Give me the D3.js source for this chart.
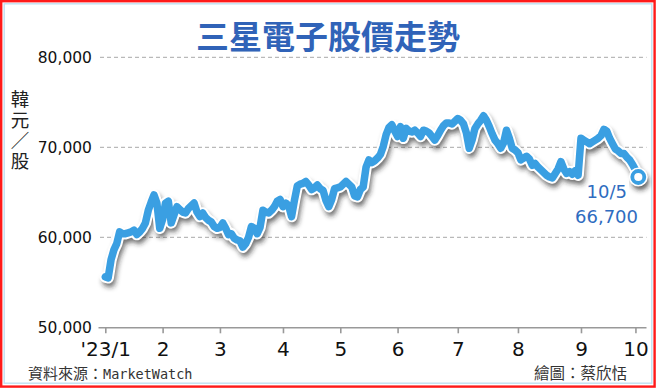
<!DOCTYPE html>
<html>
<head>
<meta charset="utf-8">
<script src="https://cdn.jsdelivr.net/npm/d3@7"></script>
<style>
  html, body { margin: 0; padding: 0; background: #fff; }
  svg { display: block; }
</style>
</head>
<body>
<svg id="chart" width="656" height="389"></svg>
<script>
// ---- data (KRW per share, daily close) ----
var holidays = ["2023-01-23", "2023-01-24", "2023-03-01", "2023-05-01", "2023-05-05", "2023-05-29",
                "2023-06-06", "2023-08-15", "2023-09-28", "2023-09-29", "2023-10-02", "2023-10-03"];
var firstDay = "2023-01-02", lastDay = "2023-10-05";

var closesJan = [55600, 55500, 57500, 58600, 59300, 60600, 60400, 60400, 60500, 60600,
                 60800, 60300, 60600, 61000, 61600, 63000, 63900, 64700, 63800, 61000];
var closesFeb = [62000, 63800, 64000, 61600, 62500, 63400, 63100, 62800, 62700, 63200,
                 63500, 63800, 62800, 62300, 62700, 62200, 61900, 61700, 61200, 61000];
var closesMar = [61100, 61600, 61000, 60300, 60400, 59900, 59700, 59600, 58900, 59300, 60000,
                 61200, 61000, 60400, 61100, 63000, 62800, 62700, 63000, 63400, 64000, 64200];
var closesApr = [63400, 63800, 63500, 62300, 64100, 65700, 65900, 66000, 66200, 65800,
                 65300, 65500, 65800, 65400, 65200, 64100, 63400, 64200, 65400, 65500];
var closesMay = [65600, 65900, 66200, 65900, 65600, 64600, 64500, 65300, 65600, 67800,
                 68600, 68300, 68500, 68800, 69200, 70100, 71400, 72200, 72500, 71800];
var closesJun = [71200, 72300, 71000, 72100, 71800, 71700, 71900, 71600, 71200, 71900, 71800,
                 71600, 71200, 70800, 71300, 71900, 72400, 72700, 72700, 72600, 72900];
var closesJul = [73200, 73000, 72600, 71600, 69900, 70800, 72100, 72600, 73000, 73500, 73000,
                 72300, 71500, 70800, 70400, 69900, 70500, 71900, 71000, 69900, 69700];
var closesAug = [69400, 68600, 68800, 69000, 68700, 68000, 68200, 67800, 67500, 67200, 66900,
                 66700, 66600, 67100, 67600, 68400, 67600, 67100, 67300, 67000, 67400, 66900];
var closesSep = [71000, 70800, 70600, 70400, 70600, 70800, 71000, 71300, 72000, 71800,
                 71000, 70400, 69800, 69600, 69300, 69300, 68900, 68600, 68100];
var closesOct = [67500, 66700];

var tickLabels = ["'23/1", "2", "3", "4", "5", "6", "7", "8", "9", "10"];
var yTicks = [50000, 60000, 70000, 80000];
var unitLabel = "韓元／股";
var lastLabel = ["10/5", "66,700"];

// ---- trading calendar ----
var parse = d3.timeParse("%Y-%m-%d"), fmt = d3.timeFormat("%Y-%m-%d");
var tradingDays = d3.timeDay.range(parse(firstDay), d3.timeDay.offset(parse(lastDay), 1))
  .filter(function (d) { return d.getDay() !== 0 && d.getDay() !== 6 && holidays.indexOf(fmt(d)) < 0; });

var closes = [].concat(closesJan, closesFeb, closesMar, closesApr, closesMay,
                       closesJun, closesJul, closesAug, closesSep, closesOct);
var data = tradingDays.map(function (d, i) { return { date: d, key: fmt(d), value: closes[i] }; });

// first trading day of each month -> ticks
var tickKeys = [];
data.forEach(function (d, i) {
  if (i === 0 || d.date.getMonth() !== data[i - 1].date.getMonth()) tickKeys.push(d.key);
});

// ---- drawing ----
var svg = d3.select("#chart");
var blue = "#3a9fe2";

var x = d3.scalePoint().domain(data.map(function (d) { return d.key; })).range([105.3, 638.3]);
var y = d3.scaleLinear().domain([50000, 80000]).range([327.3, 57.3]);

var defs = svg.append("defs");
var f = defs.append("filter").attr("id", "shadow").attr("x", "-10%").attr("y", "-20%").attr("width", "120%").attr("height", "150%");
f.append("feGaussianBlur").attr("stdDeviation", 2.4);

// frame
svg.append("rect").attr("x", 1.2).attr("y", 1.2).attr("width", 653.4).attr("height", 385.4)
  .attr("fill", "none").attr("stroke", "#ff1a1a").attr("stroke-width", 2.4);
svg.append("rect").attr("x", 4.2).attr("y", 3.8).attr("width", 647.6).attr("height", 379.4)
  .attr("fill", "none").attr("stroke", "#bfe0f2").attr("stroke-width", 1.4);

// title
svg.append("text").attr("x", 328).attr("y", 49).attr("text-anchor", "middle")
  .style("font-family", "'Noto Sans CJK TC', sans-serif").style("font-weight", "bold")
  .style("font-size", "33px").attr("fill", "#3063b8").text("三星電子股價走勢");

// grid lines
svg.append("g").selectAll("line").data(yTicks.slice(1)).join("line")
  .attr("x1", 100).attr("x2", 646.5)
  .attr("y1", function (d) { return y(d); }).attr("y2", function (d) { return y(d); })
  .attr("stroke", "#a8a8a8").attr("stroke-width", 1).attr("stroke-dasharray", "4,3");

// y labels
svg.append("g").selectAll("text").data(yTicks).join("text")
  .attr("x", 92).attr("y", function (d) { return y(d) + 5.5; })
  .attr("text-anchor", "end")
  .style("font-family", "'DejaVu Sans', sans-serif").style("font-size", "15.5px")
  .attr("fill", "#111").text(d3.format(","));

// unit label (vertical writing)
svg.append("text").attr("x", 20).attr("y", 90)
  .style("writing-mode", "vertical-rl").style("text-orientation", "upright")
  .style("letter-spacing", "2px")
  .style("font-family", "'Noto Sans CJK TC', sans-serif").style("font-size", "18.5px")
  .attr("fill", "#222").text(unitLabel);

// x axis
var xAxis = d3.axisBottom(x).tickValues(tickKeys).tickSize(6).tickSizeOuter(0)
  .tickFormat(function (d, i) { return tickLabels[i]; });
var gx = svg.append("g").attr("transform", "translate(0," + y(50000) + ")").call(xAxis);
gx.select(".domain").attr("d", "M98.5,0.5H646.5").attr("stroke", "#999").attr("stroke-width", 1.6);
gx.selectAll(".tick line").attr("stroke", "#999").attr("stroke-width", 1.6);
gx.selectAll(".tick text").attr("y", 29).attr("dy", 0).attr("fill", "#111")
  .style("font-family", "'DejaVu Sans', sans-serif").style("font-size", "20px");

// line: shadow, white casing, blue stroke
var line = d3.line().x(function (d) { return x(d.key); }).y(function (d) { return y(d.value); });
var last = data[data.length - 1];

svg.append("path").datum(data).attr("d", line).attr("transform", "translate(2,4.5)")
  .attr("fill", "none").attr("stroke", "#222").attr("stroke-opacity", 0.65).attr("stroke-width", 10)
  .attr("stroke-linejoin", "round").attr("stroke-linecap", "round").attr("filter", "url(#shadow)");
svg.append("circle").attr("cx", x(last.key) + 2).attr("cy", y(last.value) + 4.5).attr("r", 9)
  .attr("fill", "#222").attr("fill-opacity", 0.6).attr("filter", "url(#shadow)");

svg.append("path").datum(data).attr("d", line)
  .attr("fill", "none").attr("stroke", "#fff").attr("stroke-width", 11.5)
  .attr("stroke-linejoin", "round").attr("stroke-linecap", "round");
svg.append("path").datum(data).attr("d", line)
  .attr("fill", "none").attr("stroke", blue).attr("stroke-width", 7.5)
  .attr("stroke-linejoin", "round").attr("stroke-linecap", "round");

svg.append("circle").attr("cx", x(last.key)).attr("cy", y(last.value)).attr("r", 9.5).attr("fill", "#fff");
svg.append("circle").attr("cx", x(last.key)).attr("cy", y(last.value)).attr("r", 6)
  .attr("fill", "#fff").attr("stroke", blue).attr("stroke-width", 3.8);

// last value annotation
svg.append("g").selectAll("text").data(lastLabel).join("text")
  .attr("x", function (d, i) { return i === 0 ? 627 : 638; })
  .attr("y", function (d, i) { return 198 + i * 25; })
  .attr("text-anchor", "end")
  .style("font-family", "'DejaVu Sans', sans-serif").style("font-size", "18px")
  .attr("fill", "#2f6cc0").text(function (d) { return d; });

// footer
var src = svg.append("text").attr("x", 28).attr("y", 379)
  .style("font-family", "'Noto Sans CJK TC', sans-serif").style("font-size", "15px").attr("fill", "#333");
src.append("tspan").text("資料來源：");
src.append("tspan").style("font-family", "'DejaVu Sans Mono', monospace").style("font-size", "13.5px").text("MarketWatch");

svg.append("text").attr("x", 627).attr("y", 379).attr("text-anchor", "end")
  .style("font-family", "'Noto Sans CJK TC', sans-serif").style("font-size", "15.5px")
  .attr("fill", "#333").text("繪圖：蔡欣恬");
</script>
</body>
</html>
